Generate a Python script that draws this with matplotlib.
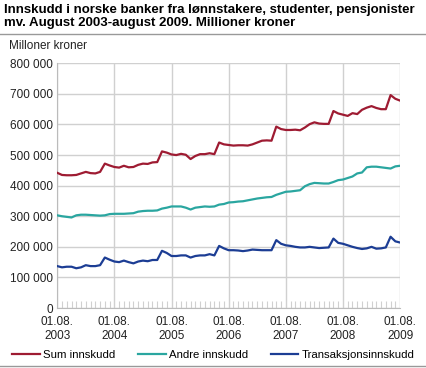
import matplotlib.pyplot as plt
from matplotlib.lines import Line2D
from matplotlib.ticker import FuncFormatter, MultipleLocator

# Månedlige verdier, august 2003 - august 2009 (millioner kroner)
sum_innskudd = [
    442, 435, 434, 434, 435, 440, 445, 441, 440, 445, 472, 466,
    461, 459, 465, 460, 461, 468, 472, 471, 476, 477, 512, 508,
    502, 500, 504, 501, 487, 497, 503, 503, 506, 503, 541, 535,
    533, 531, 532, 532, 531, 535, 541, 547, 548, 547, 593, 585,
    582, 582, 583, 581, 590, 601, 607, 603, 602, 602, 644, 636,
    632, 628, 637, 634, 648, 655, 660, 654, 650, 650, 696, 684,
    678,
]
andre_innskudd = [
    303, 300, 298, 296, 303, 305, 305, 304, 303, 302, 303, 307,
    308, 308, 308, 309, 310, 315, 317, 318, 318, 319, 325, 328,
    332, 332, 332, 328, 322, 328, 330, 332, 331, 332, 338, 340,
    345, 346, 348, 349, 352, 355, 358, 360, 362, 363, 370, 375,
    380, 381, 383, 385, 398, 405, 409, 408, 407, 407, 412, 418,
    420, 425, 430, 440, 443, 460, 462, 462, 460, 458, 456, 463,
    465,
]
transaksjonsinnskudd = [
    137, 133, 135, 135, 130, 133, 140, 137, 137, 140, 165, 158,
    152, 150, 155, 150, 146, 152, 155, 153, 157, 157, 187, 180,
    170, 170, 172, 172, 165, 170, 172, 172, 176, 172, 203, 195,
    189, 189, 188, 186, 188, 191, 190, 189, 189, 189, 222, 210,
    205, 203, 200, 198, 198, 200, 198, 196, 197, 198, 227, 213,
    210, 205, 200, 196, 193, 195, 200, 194, 195, 198, 233, 218,
    214,
]
aar = [2003, 2004, 2005, 2006, 2007, 2008, 2009]

serier = [
    ("Sum innskudd", sum_innskudd, "#9e1b32"),
    ("Andre innskudd", andre_innskudd, "#2aa6a0"),
    ("Transaksjonsinnskudd", transaksjonsinnskudd, "#1c3d94"),
]

plt.rcParams['font.family'] = ['Liberation Sans', 'DejaVu Sans']

fig = plt.figure(figsize=(4.27, 3.68), dpi=100)
ax = fig.add_axes([0.134, 0.163, 0.803, 0.665])

maaned = list(range(len(sum_innskudd)))
for navn, verdier, farge in serier:
    ax.plot(maaned, [v * 1000 for v in verdier], color=farge, linewidth=1.6,
            label=navn, zorder=3)

ax.set_xlim(0, 72)
ax.set_ylim(0, 800000)
ax.yaxis.set_major_locator(MultipleLocator(100000))
ax.yaxis.set_major_formatter(FuncFormatter(lambda v, p: f"{int(v):,}".replace(",", " ")))
ax.set_xticks([12 * i for i in range(len(aar))])
ax.set_xticklabels([f"01.08.\n{a}" for a in aar])
ax.xaxis.set_minor_locator(MultipleLocator(1))

ax.grid(True, which='major', color='#d0d0d0', linewidth=1.0, zorder=0)
ax.tick_params(axis='both', which='both', length=0, labelsize=8.5, colors='#222222')
ax.tick_params(axis='y', pad=3)
ax.tick_params(axis='x', which='major', pad=6)
ax.tick_params(axis='x', which='minor', direction='in', length=5, color='#d0d0d0',
               width=0.8, bottom=True)
for s in ['top', 'right']:
    ax.spines[s].set_visible(False)
ax.spines['left'].set_color('#bbbbbb')
ax.spines['bottom'].set_color('#bbbbbb')

fig.text(0.01, 0.99, "Innskudd i norske banker fra lønnstakere, studenter, pensjonister\n"
         "mv. August 2003-august 2009. Millioner kroner",
         fontsize=9.5, fontweight='bold', va='top', ha='left', linespacing=1.12)
fig.add_artist(Line2D([0.0, 1.0], [0.908, 0.908], color='#999999', linewidth=1))
fig.text(0.02, 0.875, "Milloner kroner", fontsize=8.5, va='center', ha='left',
         color='#222222')

handles = [Line2D([], [], color=f, linewidth=1.6) for _, _, f in serier]
fig.legend(handles, [n for n, _, _ in serier], loc='center', ncol=3,
           bbox_to_anchor=(0.5, 0.035), frameon=False, fontsize=8.2,
           handlelength=2.4, columnspacing=2.0, handletextpad=0.3,
           borderpad=0.1, borderaxespad=0)
fig.add_artist(Line2D([0.0, 1.0], [0.005, 0.005], color='#999999', linewidth=1))

fig.savefig("out.png", dpi=100)
